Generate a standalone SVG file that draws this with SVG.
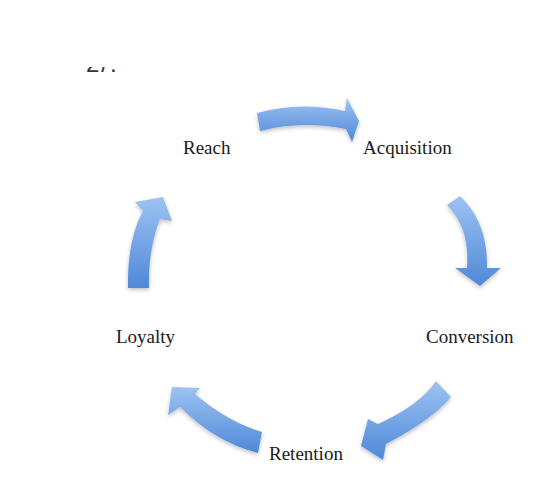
<svg xmlns="http://www.w3.org/2000/svg" width="541" height="478" viewBox="0 0 541 478">
<defs>
<linearGradient id="g" x1="0" y1="0" x2="0" y2="1">
<stop offset="0" stop-color="#9dc3f2"/>
<stop offset="1" stop-color="#4f88d8"/>
</linearGradient>
<filter id="sh" x="-20%" y="-20%" width="140%" height="140%">
<feGaussianBlur in="SourceAlpha" stdDeviation="2"/>
<feOffset dx="0" dy="2" result="b"/>
<feComponentTransfer><feFuncA type="linear" slope="0.25"/></feComponentTransfer>
<feMerge><feMergeNode/><feMergeNode in="SourceGraphic"/></feMerge>
</filter>
<clipPath id="cut"><rect x="80" y="67" width="60" height="20"/></clipPath>
<style>
.lbl{font-family:"Liberation Serif","Times New Roman",serif;font-size:19px;fill:#1a1a1a}
.arr{fill:url(#g);filter:url(#sh)}
</style>
</defs>
<rect width="541" height="478" fill="#ffffff"/>
<text x="86" y="72" clip-path="url(#cut)" font-family="Liberation Sans, Arial, sans-serif" font-size="24" letter-spacing="2" fill="#333">2/.</text>
<g id="connectors">
<path class="arr" d="M257,113 Q300,101 345,111 L347,98 L359,121 L352,142 L346,129 Q300,120 260,131 Z"/>
<path class="arr" d="M447,205 Q470,228 467,268 L455,268 L480,286 L501,268 L487,268 Q488,222 460,196 Z"/>
<path class="arr" d="M436,381 Q420,405 378,424 L368,419 L361,446 L383,460 L386,444 Q432,420 451,397 Z"/>
<path class="arr" d="M262,432 Q228,422 195,394 L200,388 L172,387 L168,415 L180,407 Q215,442 258,453 Z"/>
<path class="arr" d="M128,288 Q127,240 143,211 L135,202 L163,197 L172,221 L160,219 Q148,250 149,288 Z"/>
</g>
<g id="reach"><text class="lbl" x="183" y="154">Reach</text></g>
<g id="acquisition"><text class="lbl" x="363" y="154">Acquisition</text></g>
<g id="conversion"><text class="lbl" x="426" y="343">Conversion</text></g>
<g id="retention"><text class="lbl" x="269" y="460">Retention</text></g>
<g id="loyalty"><text class="lbl" x="116" y="343">Loyalty</text></g>
</svg>
